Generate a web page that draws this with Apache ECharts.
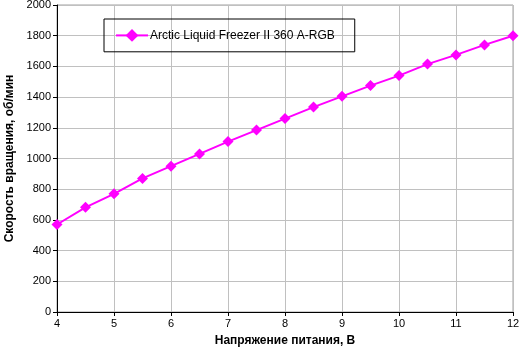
<!DOCTYPE html>
<html><head><meta charset="utf-8">
<script src="https://cdn.jsdelivr.net/npm/echarts@6/dist/echarts.min.js"></script>
<style>html,body{margin:0;padding:0;background:#fff}#c{width:519px;height:357px}</style>
</head><body><div id="c"></div>
<script>
var voltages = [4, 4.5, 5, 5.5, 6, 6.5, 7, 7.5, 8, 8.5, 9, 9.5, 10, 10.5, 11, 11.5, 12];
var rpm = [570, 682, 770, 870, 950, 1030, 1110, 1185, 1260, 1335, 1405, 1475, 1540, 1615, 1675, 1740, 1800];
var seriesName = 'Arctic Liquid Freezer II 360 A-RGB';
var xTitle = 'Напряжение питания, В';
var yTitle = 'Скорость вращения, об/мин';

var chart = echarts.init(document.getElementById('c'), null, {renderer: 'canvas'});
var font = 'Liberation Sans, Arial, sans-serif';
chart.setOption({
  animation: false,
  textStyle: {fontFamily: font},
  grid: {left: 57, right: 6, top: 5, bottom: 45, containLabel: false, outerBoundsMode: 'none',
         show: true, borderColor: '#a0a0a0', borderWidth: 1},
  legend: {
    left: 104, top: 19,
    padding: [10, 20, 10, 11],
    borderColor: '#000', borderWidth: 1,
    itemWidth: 32, itemHeight: 16, itemGap: 0,
    textStyle: {fontSize: 12, color: '#000', fontFamily: font, padding: [0, 0, 0, -3]},
    data: [{name: seriesName}]
  },
  xAxis: {
    type: 'value', min: 4, max: 12, interval: 1,
    name: xTitle, nameLocation: 'middle', nameGap: 23,
    nameTextStyle: {fontSize: 12, fontWeight: 'bold', color: '#000', fontFamily: font},
    axisLine: {lineStyle: {color: '#000', width: 1}},
    axisTick: {show: true, length: 4, lineStyle: {color: '#000'}},
    axisLabel: {fontSize: 11, color: '#000', margin: 6, fontFamily: font},
    splitLine: {show: true, lineStyle: {color: '#c0c0c0', width: 1}}
  },
  yAxis: {
    type: 'value', min: 0, max: 2000, interval: 200,
    name: yTitle, nameLocation: 'middle', nameGap: 41, nameRotate: 90,
    nameTextStyle: {fontSize: 12, fontWeight: 'bold', color: '#000', fontFamily: font},
    axisLine: {show: true, lineStyle: {color: '#000', width: 1}},
    axisTick: {show: true, length: 4, lineStyle: {color: '#000'}},
    axisLabel: {fontSize: 11, color: '#000', margin: 6, fontFamily: font,
                formatter: function (v) { return String(v); }},
    splitLine: {show: true, lineStyle: {color: '#c0c0c0', width: 1}}
  },
  series: [{
    name: seriesName, type: 'line',
    data: voltages.map(function (v, i) { return [v, rpm[i]]; }),
    symbol: 'diamond', symbolSize: 11,
    lineStyle: {color: '#ff00ff', width: 2},
    itemStyle: {color: '#ff00ff'},
    clip: false
  }]
});
</script></body></html>
